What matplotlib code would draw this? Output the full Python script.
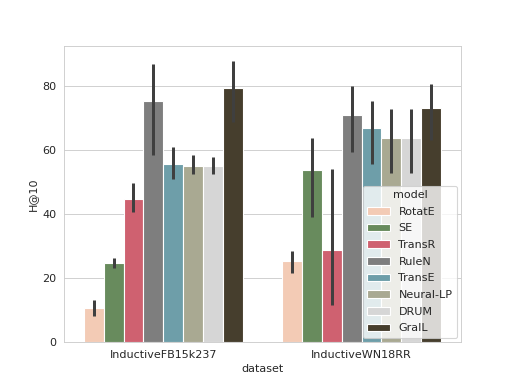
import matplotlib
matplotlib.use("Agg")
import matplotlib.pyplot as plt
import numpy as np
import seaborn as sns

sns.set_style("whitegrid")

datasets = ["InductiveFB15k237", "InductiveWN18RR"]
models = ["RotatE", "SE", "TransR", "RuleN", "TransE", "Neural-LP", "DRUM", "GraIL"]
colors = ["#f3cbb5", "#688b5d", "#cf6170", "#7e7e7e", "#6e9ea9", "#a9a992", "#d6d6d6", "#463e2d"]

# mean H@10 per model, per dataset
fb_mean = [10.6, 24.7, 44.5, 75.2, 55.7, 55.0, 55.0, 79.4]
wn_mean = [25.3, 53.7, 28.8, 70.8, 66.7, 63.8, 63.8, 73.0]
# error bar low / high
fb_low = [7.9, 23.2, 40.4, 58.4, 50.8, 52.5, 52.5, 68.7]
fb_high = [13.0, 26.1, 49.7, 86.9, 60.8, 58.3, 57.6, 87.7]
wn_low = [21.6, 38.9, 11.5, 59.2, 55.4, 52.8, 52.8, 62.9]
wn_high = [28.5, 63.7, 54.0, 79.9, 75.2, 72.8, 72.8, 80.7]

means = np.array([fb_mean, wn_mean])
lows = np.array([fb_low, wn_low])
highs = np.array([fb_high, wn_high])

fig, ax = plt.subplots(figsize=(6.4, 4.8), dpi=80)
n = len(models)
w = 0.8 / n
x = np.arange(len(datasets))
for i, m in enumerate(models):
    xs = x - 0.4 + w * (i + 0.5)
    ax.bar(xs, means[:, i], width=w, color=colors[i], label=m,
           edgecolor="white", linewidth=1.0, zorder=2)
    for j in range(len(datasets)):
        ax.plot([xs[j], xs[j]], [lows[j, i], highs[j, i]], color="#3f3f3f",
                lw=2.7, solid_capstyle="butt", zorder=3)

ax.set_xticks(x)
ax.set_xticklabels(datasets)
ax.set_xlim(-0.5, 1.5)
ax.set_ylim(0, 92.4)
ax.set_xlabel("dataset")
ax.set_ylabel("H@10")
ax.grid(axis="x", visible=False)
ax.set_axisbelow(True)
ax.legend(title="model", loc="lower right", labelspacing=0.6,
          borderaxespad=0.35)
fig.savefig("out.png", dpi=80)
